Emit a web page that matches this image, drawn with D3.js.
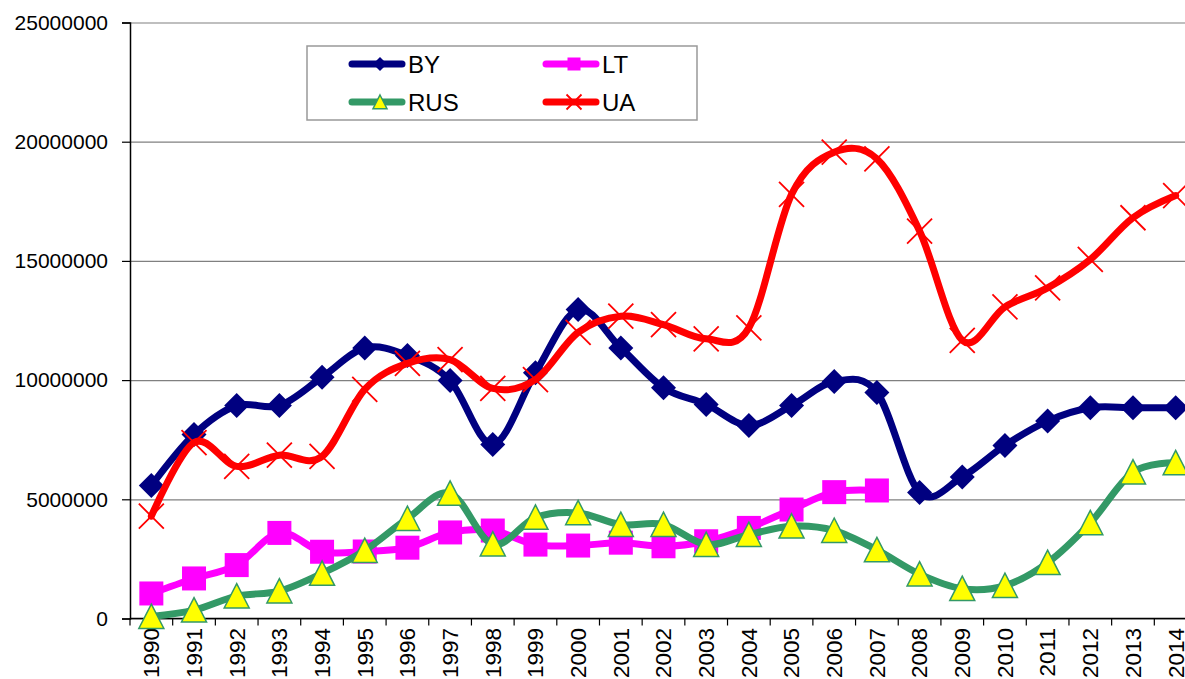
<!DOCTYPE html>
<html>
<head>
<meta charset="utf-8">
<script src="https://cdn.jsdelivr.net/npm/d3@7"></script>
<style>
  body { margin: 0; background: #fff; }
  svg { display: block; font-family: "Liberation Sans", Arial, sans-serif; }
</style>
</head>
<body>
<div id="chart"></div>
<script>
// data
var years = ["1990","1991","1992","1993","1994","1995","1996","1997","1998","1999","2000","2001","2002",
  "2003","2004","2005","2006","2007","2008","2009","2010","2011","2012","2013","2014"];

var by = [5580000, 7720000, 8930000, 8930000, 10120000, 11350000, 11030000, 9980000, 7300000, 10310000,
  12960000, 11350000, 9680000, 8980000, 8100000, 8930000, 9940000, 9480000, 5290000, 5940000,
  7260000, 8280000, 8840000, 8840000, 8840000];

var lt = [1050000, 1680000, 2240000, 3590000, 2800000, 2810000, 2970000, 3610000, 3690000, 3100000,
  3060000, 3180000, 3030000, 3240000, 3800000, 4570000, 5300000, 5370000];

var rus = [80000, 350000, 940000, 1150000, 1890000, 2850000, 4190000, 5250000, 3120000, 4240000,
  4430000, 3940000, 3940000, 3100000, 3520000, 3870000, 3690000, 2880000, 1860000, 1250000,
  1380000, 2340000, 4010000, 6140000, 6530000];

var ua = [4290000, 7380000, 6380000, 6850000, 6800000, 9610000, 10700000, 10860000, 9650000, 10020000,
  12000000, 12680000, 12330000, 11730000, 12190000, 17790000, 19560000, 19280000, 16250000, 11670000,
  13070000, 13870000, 15060000, 16810000, 17740000];

var yTicks = [0, 5000000, 10000000, 15000000, 20000000, 25000000];

var svgWidth = 1185;
var svgHeight = 679;

var svg = d3.select("#chart")
  .append("svg")
  .attr("width", svgWidth)
  .attr("height", svgHeight);

var plotLeft = 130, plotRight = 1197, plotTop = 22.5, plotBottom = 618.5;

var x = d3.scaleBand().domain(years).range([plotLeft, plotRight]).padding(0);
var y = d3.scaleLinear().domain([0, 25000000]).range([plotBottom, plotTop]);

function cx(d, i) { return x(years[i]) + x.bandwidth() / 2; }

// gridlines
svg.append("g")
  .attr("transform", `translate(${plotLeft},0)`)
  .call(d3.axisLeft(y).tickValues(yTicks).tickSize(-(plotRight - plotLeft)).tickFormat(""))
  .call(g => g.select(".domain").remove())
  .call(g => g.selectAll("line").attr("stroke", "#808080").attr("stroke-width", 1.2));

// y axis
var yAxis = svg.append("g")
  .attr("transform", `translate(${plotLeft},0)`)
  .call(d3.axisLeft(y).tickValues(yTicks).tickSize(8).tickPadding(14).tickFormat(d3.format("d")));
yAxis.select(".domain").attr("stroke", "#000").attr("stroke-width", 1.5);
yAxis.selectAll(".tick line").attr("stroke", "#000").attr("stroke-width", 1.2);
yAxis.selectAll("text").attr("font-size", 21).attr("fill", "#000")
  .attr("font-family", "Liberation Sans, Arial, sans-serif");

// x axis line
svg.append("line")
  .attr("x1", plotLeft).attr("x2", plotRight)
  .attr("y1", plotBottom).attr("y2", plotBottom)
  .attr("stroke", "#000").attr("stroke-width", 1.5);

// x tick marks between categories
var tickPos = years.map(d => x(d)).concat([x.range()[1]]);
svg.append("g").selectAll("line")
  .data(tickPos)
  .enter()
  .append("line")
  .attr("x1", d => d).attr("x2", d => d)
  .attr("y1", plotBottom).attr("y2", plotBottom + 7)
  .attr("stroke", "#000").attr("stroke-width", 1.2);

// x labels
svg.append("g").selectAll("text")
  .data(years)
  .enter()
  .append("text")
  .attr("transform", d => `translate(${x(d) + x.bandwidth() / 2},628) rotate(-90)`)
  .attr("text-anchor", "end")
  .attr("dy", "0.35em")
  .attr("font-size", 22.5)
  .attr("fill", "#000")
  .text(d => d);

var line = d3.line()
  .x(cx)
  .y(d => y(d))
  .curve(d3.curveCardinal.tension(0));

var series = [
  {name: "BY", values: by, color: "#000080", marker: "diamond"},
  {name: "LT", values: lt, color: "#FF00FF", marker: "square"},
  {name: "RUS", values: rus, color: "#339966", marker: "triangle"},
  {name: "UA", values: ua, color: "#FF0000", marker: "cross"}
];

function drawMarker(g, type, color, px, py, s) {
  if (type === "diamond") {
    g.append("path")
      .attr("d", `M${px},${py - s}L${px + s},${py}L${px},${py + s}L${px - s},${py}Z`)
      .attr("fill", color);
  } else if (type === "square") {
    g.append("rect")
      .attr("x", px - s).attr("y", py - s)
      .attr("width", 2 * s).attr("height", 2 * s)
      .attr("fill", color);
  } else if (type === "triangle") {
    g.append("path")
      .attr("d", `M${px},${py - s}L${px + s},${py + s * 0.95}L${px - s},${py + s * 0.95}Z`)
      .attr("fill", "#FFFF00")
      .attr("stroke", color)
      .attr("stroke-width", 1.5);
  } else {
    g.append("path")
      .attr("d", `M${px - s},${py - s}L${px + s},${py + s}M${px - s},${py + s}L${px + s},${py - s}`)
      .attr("stroke", color)
      .attr("stroke-width", 1.8)
      .attr("fill", "none");
  }
}

var markerSize = {diamond: 12.5, square: 12, triangle: 12.5, cross: 12.5};

series.forEach(function(s) {
  var g = svg.append("g");
  g.append("path")
    .datum(s.values)
    .attr("d", line)
    .attr("fill", "none")
    .attr("stroke", s.color)
    .attr("stroke-width", 7)
    .attr("stroke-linejoin", "round")
    .attr("stroke-linecap", "round");
  s.values.forEach(function(v, i) {
    drawMarker(g, s.marker, s.color, cx(v, i), y(v), markerSize[s.marker]);
  });
});

// legend
var legend = svg.append("g");
legend.append("rect")
  .attr("x", 307).attr("y", 46)
  .attr("width", 390).attr("height", 74)
  .attr("fill", "#fff")
  .attr("stroke", "#999")
  .attr("stroke-width", 1.5);

var legendPos = [
  {x: 352, y: 64}, {x: 546, y: 64},
  {x: 352, y: 102}, {x: 546, y: 102}
];
var legendSize = {diamond: 7, square: 6.5, triangle: 7, cross: 7.5};

series.forEach(function(s, i) {
  var p = legendPos[i];
  legend.append("line")
    .attr("x1", p.x).attr("x2", p.x + 50)
    .attr("y1", p.y).attr("y2", p.y)
    .attr("stroke", s.color)
    .attr("stroke-width", 7)
    .attr("stroke-linecap", "round");
  drawMarker(legend, s.marker, s.color, p.x + 28, p.y, legendSize[s.marker]);
  legend.append("text")
    .attr("x", p.x + 56)
    .attr("y", p.y)
    .attr("dy", "0.36em")
    .attr("font-size", 24)
    .attr("fill", "#000")
    .text(s.name);
});
</script>
</body>
</html>
